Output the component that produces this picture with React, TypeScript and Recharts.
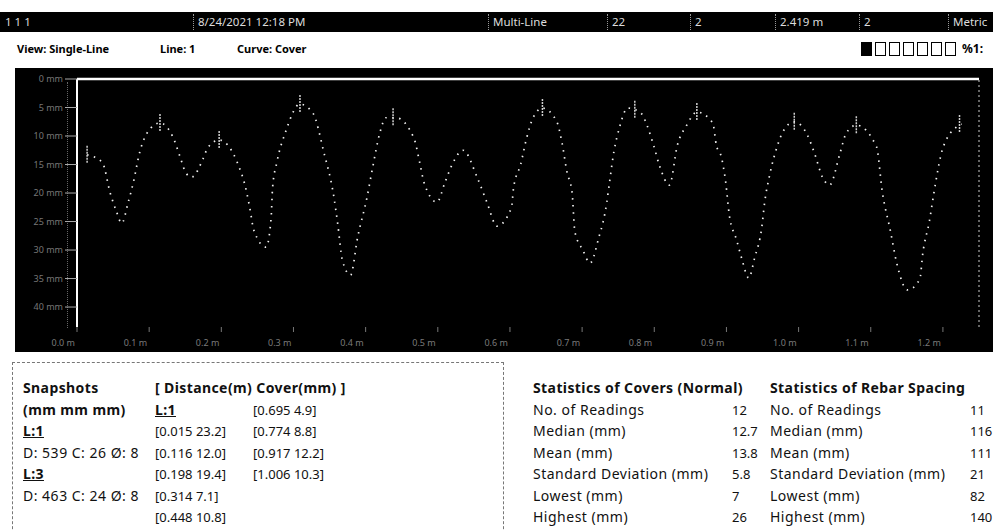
import React from 'react';
import {
  ComposedChart, Line, Scatter,
  XAxis, YAxis, ReferenceLine,
} from 'recharts';

// scan trace: distance along the line (m) and signal depth (mm)
const distance = [
  0.014, 0.035, 0.046, 0.054, 0.062, 0.071, 0.078, 0.087, 0.097, 0.115,
  0.133, 0.143, 0.151, 0.159, 0.175, 0.181, 0.197, 0.222, 0.235, 0.240,
  0.245, 0.262, 0.269, 0.271, 0.277, 0.289, 0.309, 0.327, 0.342, 0.356,
  0.361, 0.368, 0.379, 0.389, 0.402, 0.409, 0.420, 0.428, 0.442, 0.467,
  0.475, 0.481, 0.499, 0.510, 0.521, 0.535, 0.555, 0.568, 0.582, 0.602,
  0.605, 0.615, 0.623, 0.632, 0.645, 0.665, 0.672, 0.679, 0.686, 0.690,
  0.701, 0.711, 0.724, 0.729, 0.734, 0.738, 0.744, 0.752, 0.763, 0.780,
  0.799, 0.807, 0.821, 0.832, 0.845, 0.859, 0.881, 0.886, 0.893, 0.899,
  0.904, 0.914, 0.921, 0.931, 0.939, 0.949, 0.953, 0.960, 0.972, 0.978,
  0.994, 1.012, 1.022, 1.033, 1.043, 1.057, 1.066, 1.080, 1.108, 1.116,
  1.127, 1.136, 1.151, 1.168, 1.172, 1.181, 1.190, 1.199, 1.219, 1.226,
];
const signal = [
  13.3, 14.6, 20.0, 23.0, 25.3, 21.6, 18.2, 12.8, 9.5, 7.7,
  10.2, 13.7, 16.5, 17.2, 13.9, 12.1, 10.7, 14.6, 19.8, 23.0,
  26.5, 29.5, 24.4, 19.1, 14.6, 9.3, 4.4, 6.0, 12.8, 20.7,
  25.1, 31.9, 34.4, 27.7, 20.7, 16.0, 9.3, 6.8, 6.8, 10.4,
  14.7, 18.2, 21.6, 18.1, 14.7, 12.5, 17.4, 21.6, 25.8, 22.6,
  19.1, 14.9, 10.4, 6.8, 5.1, 7.5, 11.1, 16.3, 19.8, 26.8,
  30.0, 32.3, 27.4, 25.1, 21.8, 18.1, 12.8, 8.4, 5.1, 5.8,
  11.6, 15.1, 18.6, 11.6, 8.1, 5.8, 7.7, 11.6, 13.7, 18.1,
  23.9, 28.2, 31.4, 34.9, 31.4, 26.0, 21.6, 16.8, 11.2, 9.3,
  7.5, 9.8, 13.0, 17.2, 18.6, 13.2, 9.5, 8.1, 11.9, 19.8,
  26.5, 32.3, 37.0, 35.1, 30.7, 25.1, 18.1, 12.5, 8.4, 7.9,
];

// rebar markers on the trace
const rebarDist = [0.014, 0.115, 0.197, 0.309, 0.438, 0.645, 0.773, 0.859, 0.994, 1.080, 1.223];
const rebarSig = [13.3, 7.7, 10.7, 4.4, 6.7, 5.1, 5.4, 5.8, 7.5, 8.1, 7.9];

const xTicks = [0, 0.1, 0.2, 0.3, 0.4, 0.5, 0.6, 0.7, 0.8, 0.9, 1.0, 1.1, 1.2];
const yTicks = [0, 5, 10, 15, 20, 25, 30, 35, 40];

const headerCells = [
  { x: 5, text: '1 1 1' },
  { x: 198, text: '8/24/2021 12:18 PM' },
  { x: 493, text: 'Multi-Line' },
  { x: 612, text: '22' },
  { x: 695, text: '2' },
  { x: 780, text: '2.419 m' },
  { x: 864, text: '2' },
  { x: 953, text: 'Metric' },
];

const snapLeft = ['Snapshots', '(mm mm mm)', 'L:1', 'D: 539 C: 26 Ø: 8', 'L:3', 'D: 463 C: 24 Ø: 8'];
const snapMid = ['[ Distance(m)  Cover(mm) ]', 'L:1', '[0.015  23.2]', '[0.116  12.0]', '[0.198  19.4]', '[0.314  7.1]', '[0.448  10.8]'];
const snapRight = ['', '[0.695  4.9]', '[0.774  8.8]', '[0.917  12.2]', '[1.006  10.3]', '', ''];

const coverLabels = ['No. of Readings', 'Median (mm)', 'Mean (mm)', 'Standard Deviation (mm)', 'Lowest (mm)', 'Highest (mm)'];
const coverValues = ['12', '12.7', '13.8', '5.8', '7', '26'];
const spacingLabels = ['No. of Readings', 'Median (mm)', 'Mean (mm)', 'Standard Deviation (mm)', 'Lowest (mm)', 'Highest (mm)'];
const spacingValues = ['11', '116', '111', '21', '82', '140'];

const trace = distance.map((d, i) => ({ d, v: signal[i] }));
const rebars = rebarDist.map((d, i) => ({ d, v: rebarSig[i] }));

const FONT = '"Noto Sans", "Open Sans", sans-serif';
const ROW0 = 388;
const ROWH = 21.5;

function XTick({ x, y, payload }: any) {
  return (
    <text x={x - 2} y={y + 12} textAnchor="end" fill="#7a7a7a" fontSize={9} fontFamily={FONT}>
      {payload.value.toFixed(1)} m
    </text>
  );
}

function RebarMark({ cx, cy }: any) {
  return (
    <line x1={cx} x2={cx} y1={cy - 9} y2={cy + 9} stroke="#d0d0d0" strokeWidth={1.5} strokeDasharray="2 1" />
  );
}

// one text line of the lower panels
function Row({ x, i, children, bold = false, underline = false, num = false }: any) {
  return (
    <div style={{
      position: 'absolute',
      left: x,
      top: ROW0 + i * ROWH - 10,
      fontSize: num ? 13 : 14,
      letterSpacing: num ? 0 : bold ? 0.4 : 0.5,
      lineHeight: '20px',
      fontWeight: bold ? 700 : 400,
      textDecoration: underline ? 'underline' : 'none',
      whiteSpace: 'nowrap',
      color: '#111',
    }}>
      {children}
    </div>
  );
}

export default function App() {
  return (
    <div style={{
      position: 'absolute', left: 0, top: 0,
      width: 993, height: 530, background: '#fff', overflow: 'hidden',
      fontFamily: FONT,
    }}>
      {/* status bar */}
      <div style={{ position: 'absolute', left: 0, top: 12, width: 993, height: 20, background: '#000' }}>
        {headerCells.map((c, i) => (
          <React.Fragment key={i}>
            {i > 0 && (
              <div style={{ position: 'absolute', left: c.x - 5, top: 2, width: 1, height: 16, borderLeft: '1px dotted #999' }} />
            )}
            <div style={{ position: 'absolute', left: c.x, top: 2, color: '#ddd', fontSize: 11.5, lineHeight: '16px', whiteSpace: 'nowrap' }}>
              {c.text}
            </div>
          </React.Fragment>
        ))}
      </div>

      {/* view row */}
      <div style={{ position: 'absolute', left: 17, top: 41, fontSize: 11, fontWeight: 700, whiteSpace: 'nowrap' }}>View: Single-Line</div>
      <div style={{ position: 'absolute', left: 160, top: 41, fontSize: 11, fontWeight: 700, whiteSpace: 'nowrap' }}>Line: 1</div>
      <div style={{ position: 'absolute', left: 237, top: 41, fontSize: 11, fontWeight: 700, whiteSpace: 'nowrap' }}>Curve: Cover</div>
      {[0, 1, 2, 3, 4, 5, 6].map((k) => (
        <div key={k} style={{
          position: 'absolute', left: 861 + k * 14, top: 42, width: 9, height: 12,
          border: '1.5px solid #000', background: k === 0 ? '#000' : '#fff',
        }} />
      ))}
      <div style={{ position: 'absolute', left: 962, top: 40, fontSize: 12, fontWeight: 700, whiteSpace: 'nowrap' }}>%1:</div>

      {/* scan plot */}
      <div style={{ position: 'absolute', left: 15, top: 68, width: 978, height: 284, background: '#000' }}>
        <div style={{ position: 'absolute', left: 52, top: 14, height: 246, borderLeft: '1px dotted #666' }} />
        <ComposedChart width={978} height={284} data={trace} margin={{ top: 11, right: 14, bottom: 0, left: 0 }}>
          <XAxis
            dataKey="d" type="number" domain={[0, 1.25]} ticks={xTicks}
            axisLine={false} tickLine={{ stroke: '#777' }} tickSize={5}
            tick={<XTick />} height={25} allowDataOverflow
          />
          <YAxis
            type="number" domain={[0, 43.5]} ticks={yTicks} reversed width={62}
            axisLine={{ stroke: '#fff', strokeWidth: 2 }}
            tickLine={{ stroke: '#aaa' }} tickSize={12}
            tick={{ fill: '#777', fontSize: 9, fontFamily: FONT }}
            tickFormatter={(v: number) => `${v} mm`}
            allowDataOverflow
          />
          <ReferenceLine y={0} stroke="#fff" strokeWidth={2.5} />
          <ReferenceLine x={1.25} stroke="#ccc" strokeDasharray="2 3" />
          <Line
            dataKey="v" type="monotone" stroke="#f2f2f2" strokeWidth={1.7}
            strokeDasharray="1.5 5.5" dot={false} isAnimationActive={false}
          />
          <Scatter data={rebars} dataKey="v" shape={<RebarMark />} isAnimationActive={false} />
        </ComposedChart>
      </div>

      {/* snapshots box */}
      <div style={{
        position: 'absolute', left: 12, top: 362, width: 490, height: 200,
        border: '1px dashed #777',
      }} />
      {snapLeft.map((t, i) => (
        <Row key={'l' + i} x={23} i={i} bold={i < 3 || i === 4} underline={i === 2 || i === 4}>{t}</Row>
      ))}
      {snapMid.map((t, i) => (
        <Row key={'m' + i} x={155} i={i} bold={i < 2} underline={i === 1} num={i > 1}>{t}</Row>
      ))}
      {snapRight.map((t, i) => t && (
        <Row key={'r' + i} x={253} i={i} num>{t}</Row>
      ))}

      {/* statistics */}
      <Row x={533} i={0} bold>Statistics of Covers (Normal)</Row>
      {coverLabels.map((t, i) => (
        <Row key={'cl' + i} x={533} i={i + 1}>{t}</Row>
      ))}
      {coverValues.map((t, i) => (
        <Row key={'cv' + i} x={732} i={i + 1} num>{t}</Row>
      ))}
      <Row x={770} i={0} bold>Statistics of Rebar Spacing</Row>
      {spacingLabels.map((t, i) => (
        <Row key={'sl' + i} x={770} i={i + 1}>{t}</Row>
      ))}
      {spacingValues.map((t, i) => (
        <Row key={'sv' + i} x={970} i={i + 1} num>{t}</Row>
      ))}
    </div>
  );
}
